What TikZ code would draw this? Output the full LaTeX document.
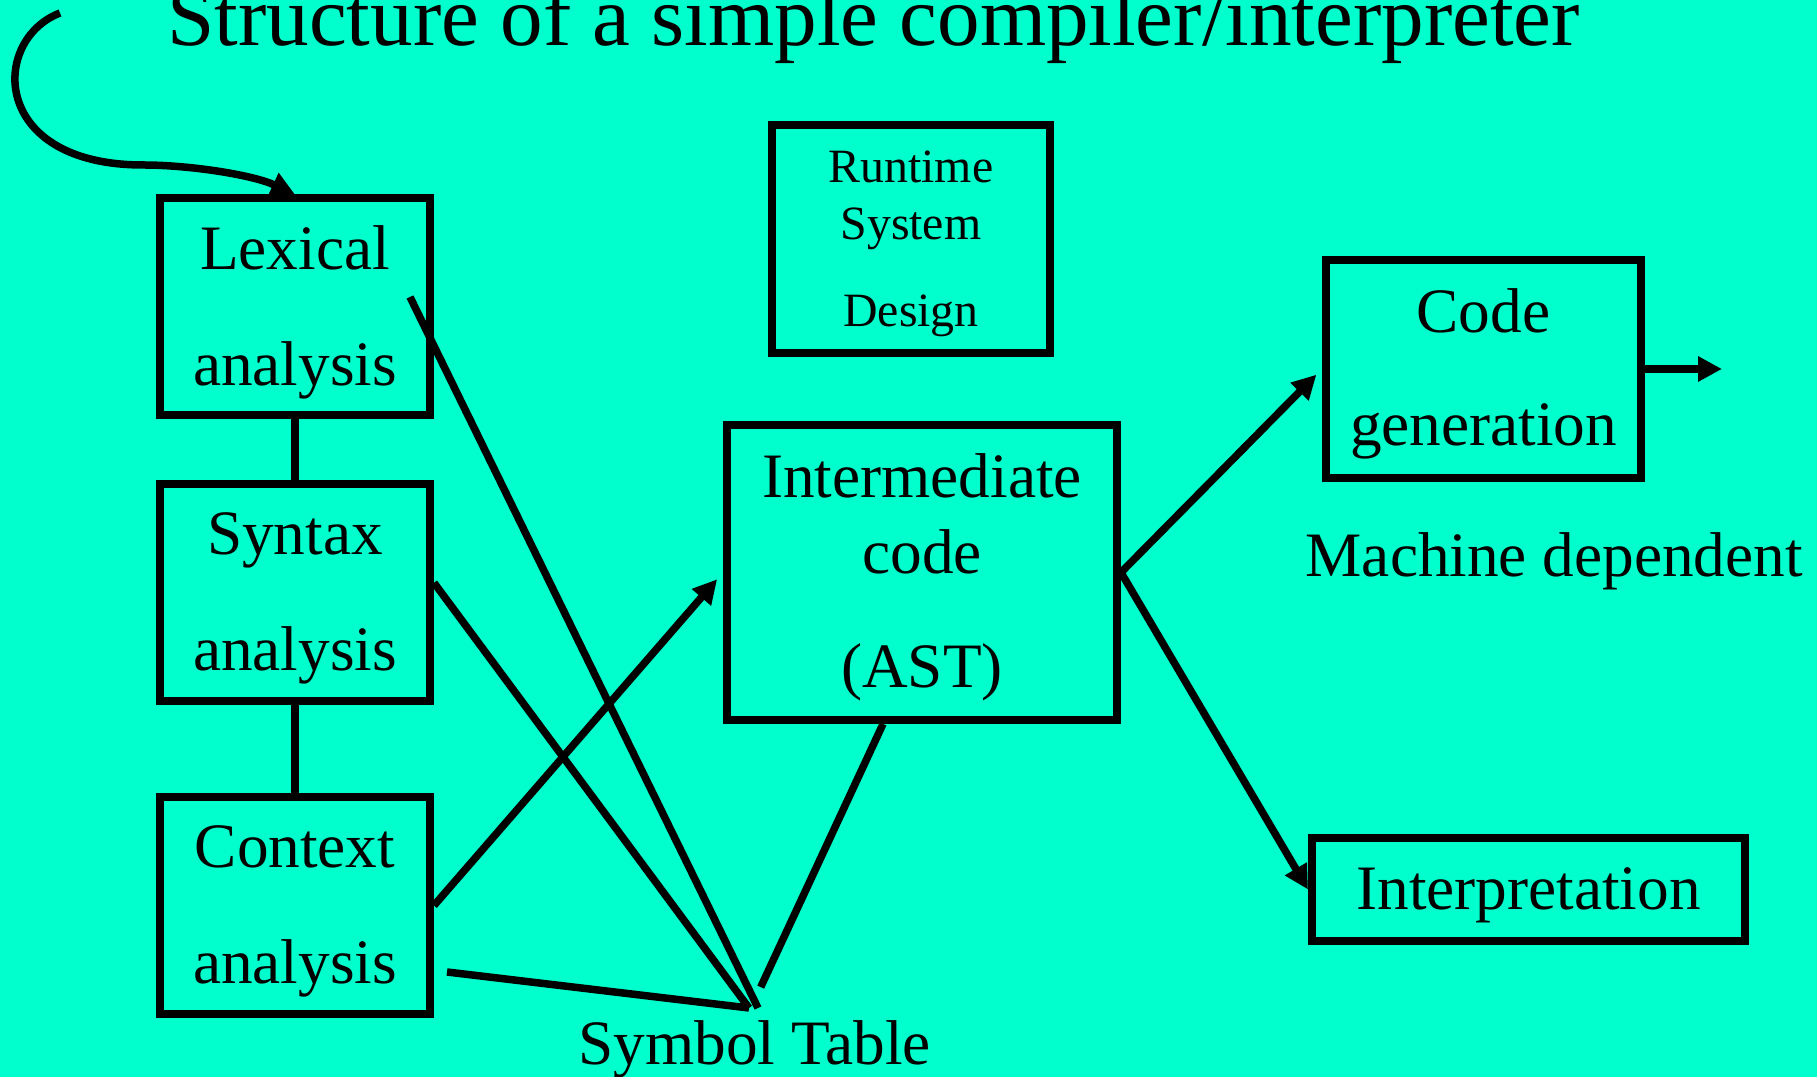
\documentclass[tikz,border=0pt]{standalone}
\usepackage{fontspec}
\setmainfont{Liberation Serif}
\usetikzlibrary{arrows.meta,calc}
\definecolor{aqua}{RGB}{0,255,204}
\newcommand{\tstrut}{\rule{0pt}{0.85em}}

\begin{document}
\begin{tikzpicture}[x=0.1mm,y=-0.1mm,
    box/.style={draw,line width=0.8mm,align=center,inner sep=0pt,
      font=\fontsize{18}{33}\selectfont},
    link/.style={line width=0.75mm},
    arr/.style={link,-{Triangle[length=2.4mm,width=2.4mm]}}]
  \clip (0,0) rectangle (1817,1077);
  \fill[aqua] (0,0) rectangle (1817,1077);
  \node[anchor=base west,font=\fontsize{24.2}{29}\selectfont] (title) at (155,46)
    {Structure of a simple compiler/interpreter};

  % front end
  \node[box,minimum width=27mm,minimum height=21.7mm] (lex) at (295,307) {\tstrut Lexical\\analysis};
  \node[box,minimum width=27mm,minimum height=21.7mm] (syn) at (295,592.5) {\tstrut Syntax\\analysis};
  \node[box,minimum width=27mm,minimum height=21.7mm] (ctx) at (295,905.5) {\tstrut Context\\analysis};
  \node[box,minimum width=27.8mm,minimum height=22.8mm,
    font=\fontsize{13.6}{16.2}\selectfont] (rts) at (911,239) {\tstrut Runtime\\System\\[8.6pt]Design};
  \node[box,minimum width=39mm,minimum height=29.5mm,
    font=\fontsize{18}{21.6}\selectfont] (int) at (922,572.5) {\tstrut Intermediate\\code\\[10.8pt](AST)};

  % back end
  \node[box,minimum width=31.5mm,minimum height=21.8mm,
    font=\fontsize{18}{32.1}\selectfont] (code) at (1483.5,369) {\tstrut Code\\generation};
  \node[box,minimum width=43.3mm,minimum height=10.3mm] (interp) at (1528.5,889.5) {\tstrut Interpretation};
  \node[anchor=base west,inner sep=0pt,font=\fontsize{18}{22}\selectfont] (mach) at (1305,577)
    {Machine dependent};
  \node[anchor=base west,inner sep=0pt,font=\fontsize{18}{22}\selectfont] (symtab) at (578,1065)
    {Symbol Table};

  \coordinate (entry) at (60,13);
  \coordinate (lexout) at (410,297);
  \coordinate (ctxout) at (447,972);
  \coordinate (intout) at ($(int.south)+(-39,0)$);
  \coordinate (tab) at (751,1008);
  \coordinate (exit) at (1722,369);

  \draw[arr] (entry) .. controls (-10,40) and (-10,165) .. (143,165)
    .. controls (190,165) and (253,175) .. (lex.north);
  \draw[link] (lex) -- (syn);
  \draw[link] (syn) -- (ctx);
  \draw[link] (lexout) -- ([xshift=0.7mm]tab);
  \draw[link] (syn.4) -- ([xshift=-0.2mm]tab);
  \draw[link] (ctxout) -- ([xshift=-0.2mm]tab);
  \draw[link,shorten >=2.3mm] (intout) -- (tab);
  \draw[arr,shorten >=0.9mm] (ctx.east) -- (int.west);
  \draw[arr,shorten >=0.8mm] (int.east) -- (code.west);
  \draw[arr] (int.east) -- (interp.west);
  \draw[arr] (code.east) -- (exit);
\end{tikzpicture}
\end{document}
